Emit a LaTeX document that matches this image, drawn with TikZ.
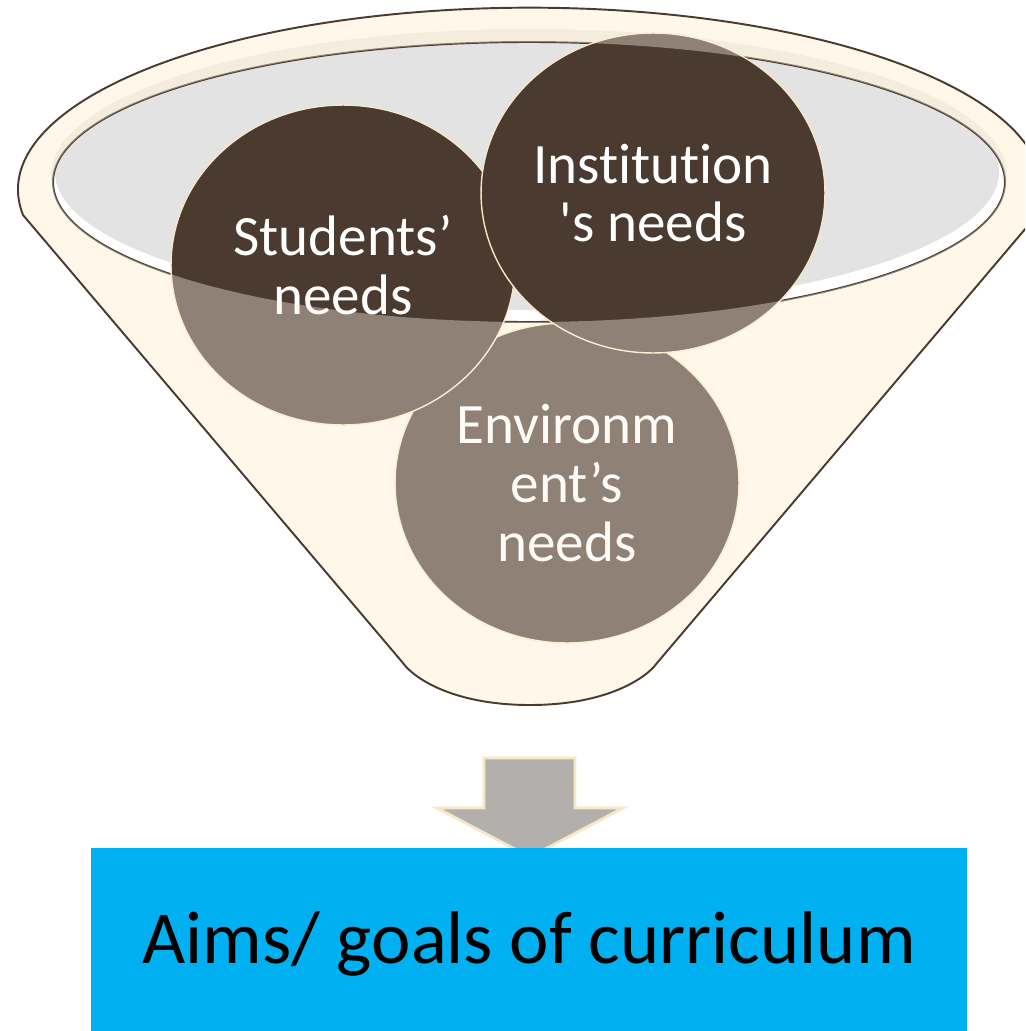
\documentclass[tikz,border=0pt]{standalone}
\usepackage{fontspec}
\setmainfont{Carlito}[Ligatures={TeX,NoCommon}]
\usetikzlibrary{shapes.geometric}
\definecolor{darkbrown}{HTML}{4B3A2F}
\definecolor{rimline}{HTML}{4A3B30}
\definecolor{funnelcream}{HTML}{FEF7EA}
\definecolor{rimtan}{HTML}{EEE7D7}
\definecolor{bowlgrey}{HTML}{E3E3E3}
\definecolor{bubbleedge}{HTML}{F7E8C4}
\definecolor{arrowgrey}{HTML}{B3AFAC}
\definecolor{goalblue}{HTML}{00B0F0}
\newcommand{\funnelshape}{(23,215) arc[start angle=172, end angle=368, x radius=512, y radius=182]
	-- (657,663) .. controls (648,676) and (610,705) .. (530,705)
	.. controls (450,705) and (412,676) .. (403,663) -- cycle}
\begin{document}
\begin{tikzpicture}[x=0.02cm, y=-0.02cm,
	rim/.style={draw=rimline, line width=1.1pt},
	bubble/.style={ellipse, fill=darkbrown, draw=bubbleedge, line width=0.8pt,
		minimum width=6.88cm, minimum height=6.4cm, inner sep=0pt,
		text=white, align=center, font=\fontsize{32.5}{33.5}\selectfont},
	goalbox/.style={rectangle, fill=goalblue, minimum width=17.52cm, minimum height=3.66cm,
		inner sep=0pt, text height=1.2cm, text depth=0.26cm,
		text=black, font=\fontsize{42.5}{50}\selectfont}]
	\useasboundingbox (0,0) rectangle (1025,1031);
	\begin{scope}
		\clip (0,0) rectangle (1025,1031);
		% funnel body and bowl
		\fill[funnelcream] \funnelshape;
		\fill[rimtan] (529,175) ellipse [x radius=478, y radius=146];
		\fill[white] (529,182) ellipse [x radius=476, y radius=140];
		\begin{scope}
			\clip (529,182) ellipse [x radius=476, y radius=140];
			\fill[bowlgrey] (527,172) ellipse [x radius=472, y radius=138];
		\end{scope}
		\draw[rim] (529,182) ellipse [x radius=476, y radius=140];
		% needs
		\node[bubble] (environment) at (567,483) {Environm\\ent’s\\needs};
		\node[bubble] (students) at (343,265) {Students’\\needs};
		\node[bubble] (institution) at (653,193) {Institution\\\textquotesingle s needs};
		% front of the funnel
		\fill[funnelcream, fill opacity=0.38, even odd rule] \funnelshape
			(529,182) ellipse [x radius=476, y radius=140];
		\draw[rim] \funnelshape;
	\end{scope}
	% arrow and result
	\draw[fill=arrowgrey, draw=bubbleedge, line width=1.6pt] (484,758) -- (575,758) -- (575,808) -- (623,808)
		-- (530,857) -- (437,808) -- (484,808) -- cycle;
	\node[goalbox] (goals) at (529,939.5) {Aims/ goals of curriculum};
\end{tikzpicture}
\end{document}
